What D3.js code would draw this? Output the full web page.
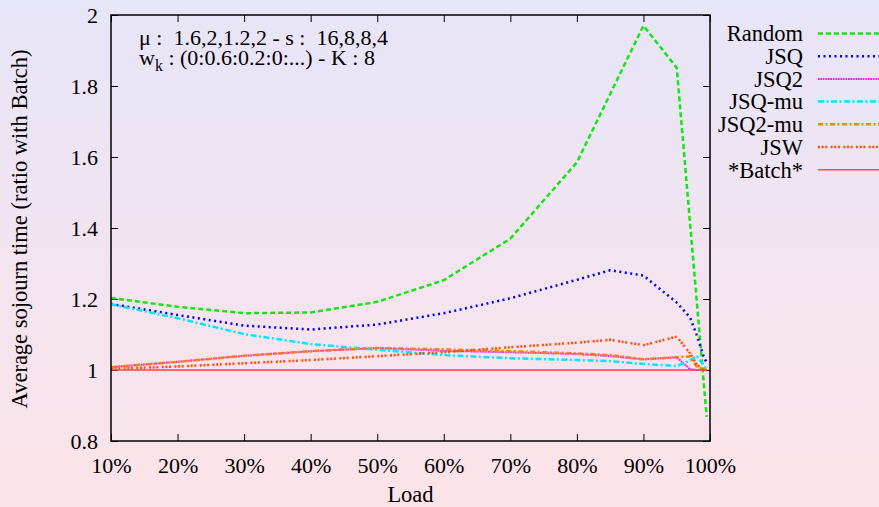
<!DOCTYPE html>
<html>
<head>
<meta charset="utf-8">
<script src="https://cdn.jsdelivr.net/npm/d3@7"></script>
</head>
<body style="margin:0">
<svg id="chart" width="879" height="507"></svg>
<script>
// Load levels (%) at which the ratios were measured
const loads = [10, 20, 30, 40, 50, 60, 70, 80, 85, 90, 95, 97, 98, 99, 99.5];

// Mean sojourn time of each policy divided by that of Batch (null = no sample)
const randomVals = [1.203, 1.178, 1.160, 1.162, 1.192, 1.253, 1.370, 1.585, null, 1.970, 1.851, null, null, null, 0.868];
const jsqVals    = [1.186, 1.155, 1.125, 1.114, 1.128, 1.160, 1.202, 1.254, 1.281, 1.266, 1.190, 1.148, 1.099, 1.040, 1.020];
const jsq2Vals   = [1.008, 1.023, 1.040, 1.053, 1.062, 1.054, 1.050, 1.045, 1.039, 1.030, 1.036, 1.002, 1.000, 1.000, 1.000];
const jsqMuVals  = [1.185, 1.146, 1.101, 1.073, 1.057, 1.042, 1.033, 1.028, 1.025, 1.017, 1.011, 1.027, 1.040, 1.015, 1.000];
const jsq2MuVals = [1.008, 1.023, 1.040, 1.053, 1.062, 1.058, 1.053, 1.047, 1.042, 1.030, 1.036, 1.038, 1.010, 1.002, 1.000];
const jswVals    = [1.003, 1.010, 1.019, 1.028, 1.039, 1.050, 1.064, 1.077, 1.085, 1.070, 1.094, 1.047, 1.015, 1.000, 1.000];
const batchVals  = [1, 1, 1, 1, 1, 1, 1, 1, 1, 1, 1, 1, 1, 1, 1];

const seriesNames = ["Random", "JSQ", "JSQ2", "JSQ-mu", "JSQ2-mu", "JSW", "*Batch*"];
const seriesValues = [randomVals, jsqVals, jsq2Vals, jsqMuVals, jsq2MuVals, jswVals, batchVals];

// Axis ticks
const xTickValues = [10, 20, 30, 40, 50, 60, 70, 80, 90, 100];
const xTickLabels = ["10%", "20%", "30%", "40%", "50%", "60%", "70%", "80%", "90%", "100%"];
const yTickValues = [0.8, 1, 1.2, 1.4, 1.6, 1.8, 2];
const yTickLabels = ["0.8", "1", "1.2", "1.4", "1.6", "1.8", "2"];

// Line styles per series
const styles = [
  { color: "#14e614", width: 2.5, dash: "5,3" },
  { color: "#0000f0", width: 2.5, dash: "2,3.5" },
  { color: "#ff00ff", width: 2, dash: "1.5,1" },
  { color: "#00e8ff", width: 2.5, dash: "6,2.5,2,2.5" },
  { color: "#ff8000", width: 2.5, dash: "5,2.5,2,2.5" },
  { color: "#ff4c00", width: 2.5, dash: "2,1.6,2,1.6,2,3.5" },
  { color: "#ff4646", width: 1.6, dash: null }
];

const FONT = '"Liberation Serif"';
// Apply the serif face directly on each text node
const serif = (sel, size = 22.5) => sel.attr("font-family", FONT).attr("font-size", size).attr("fill", "#000");

const W = 879, H = 507;
const plot = { left: 111, right: 710, top: 15, bottom: 441 };

const svg = d3.select("#chart");

// Background wash
const defs = svg.append("defs");
const grad = defs.append("linearGradient")
  .attr("id", "bg").attr("x1", 0).attr("y1", 0).attr("x2", 0).attr("y2", 1);
grad.append("stop").attr("offset", "0%").attr("stop-color", "#e7e5f8");
grad.append("stop").attr("offset", "100%").attr("stop-color", "#fce3e8");
svg.append("rect").attr("width", W).attr("height", H).attr("fill", "url(#bg)");

const x = d3.scaleLinear().domain([10, 100]).range([plot.left, plot.right]);
const y = d3.scaleLinear().domain([0.8, 2]).range([plot.bottom, plot.top]);

// Axes with inward ticks, mirrored on top and right
const tick = 7;
const styleAxis = g => {
  g.select(".domain").remove();
  g.selectAll("text").call(serif, 22);
  g.selectAll(".tick line").attr("stroke", "#000").attr("stroke-width", 1);
};

svg.append("g")
  .attr("transform", `translate(0,${plot.bottom})`)
  .call(d3.axisBottom(x).tickValues(xTickValues)
    .tickFormat((d, i) => xTickLabels[i]).tickSize(-tick).tickSizeOuter(0).tickPadding(16))
  .call(styleAxis);

svg.append("g")
  .attr("transform", `translate(${plot.left},0)`)
  .call(d3.axisLeft(y).tickValues(yTickValues)
    .tickFormat((d, i) => yTickLabels[i]).tickSize(-tick).tickSizeOuter(0).tickPadding(13))
  .call(styleAxis);

svg.append("g")
  .attr("transform", `translate(0,${plot.top})`)
  .call(d3.axisTop(x).tickValues(xTickValues).tickFormat("").tickSize(-tick).tickSizeOuter(0))
  .call(styleAxis);

svg.append("g")
  .attr("transform", `translate(${plot.right},0)`)
  .call(d3.axisRight(y).tickValues(yTickValues).tickFormat("").tickSize(-tick).tickSizeOuter(0))
  .call(styleAxis);

// Series lines
const line = d3.line().x(d => x(d[0])).y(d => y(d[1]));
const linesG = svg.append("g");
seriesValues.forEach((vals, i) => {
  const pts = loads.map((l, j) => [l, vals[j]]).filter(p => p[1] !== null);
  const s = styles[i];
  linesG.append("path")
    .attr("d", line(pts))
    .attr("fill", "none")
    .attr("stroke", s.color)
    .attr("stroke-width", s.width)
    .attr("stroke-dasharray", s.dash)
    .attr("stroke-linejoin", "round");
});

// Plot frame
svg.append("rect")
  .attr("x", plot.left).attr("y", plot.top)
  .attr("width", plot.right - plot.left).attr("height", plot.bottom - plot.top)
  .attr("fill", "none").attr("stroke", "#000").attr("stroke-width", 1.5);

// Axis titles
svg.append("text").call(serif)
  .attr("x", (plot.left + plot.right) / 2).attr("y", 502)
  .attr("text-anchor", "middle")
  .text("Load");

svg.append("text").call(serif)
  .attr("transform", `translate(27,${(plot.top + plot.bottom) / 2 + 1}) rotate(-90)`)
  .attr("text-anchor", "middle")
  .text("Average sojourn time (ratio with Batch)");

// Parameter annotation: two lines in one text block
const nb = "\u00a0";
const note = svg.append("text").call(serif, 22).attr("x", 139).attr("y", 45);
note.append("tspan").attr("x", 139).attr("y", 45)
  .text(`\u03bc :${nb} 1.6,2,1.2,2 - s :${nb} 16,8,8,4`);
note.append("tspan").attr("x", 139).attr("y", 65).text("w");
note.append("tspan").attr("dy", 6).attr("font-size", 16).text("k");
note.append("tspan").attr("dy", -6).text(" : (0:0.6:0.2:0:...) - K : 8");

// Legend
const legendTop = 33.5, legendStep = 22.7;
seriesNames.forEach((name, i) => {
  const yy = legendTop + i * legendStep;
  svg.append("text").call(serif)
    .attr("x", 803).attr("y", yy).attr("dy", "0.35em")
    .attr("text-anchor", "end")
    .text(name);
  const s = styles[i];
  svg.append("line")
    .attr("x1", 818).attr("x2", 879).attr("y1", yy).attr("y2", yy)
    .attr("stroke", s.color).attr("stroke-width", s.width)
    .attr("stroke-dasharray", s.dash);
});
</script>
</body>
</html>
